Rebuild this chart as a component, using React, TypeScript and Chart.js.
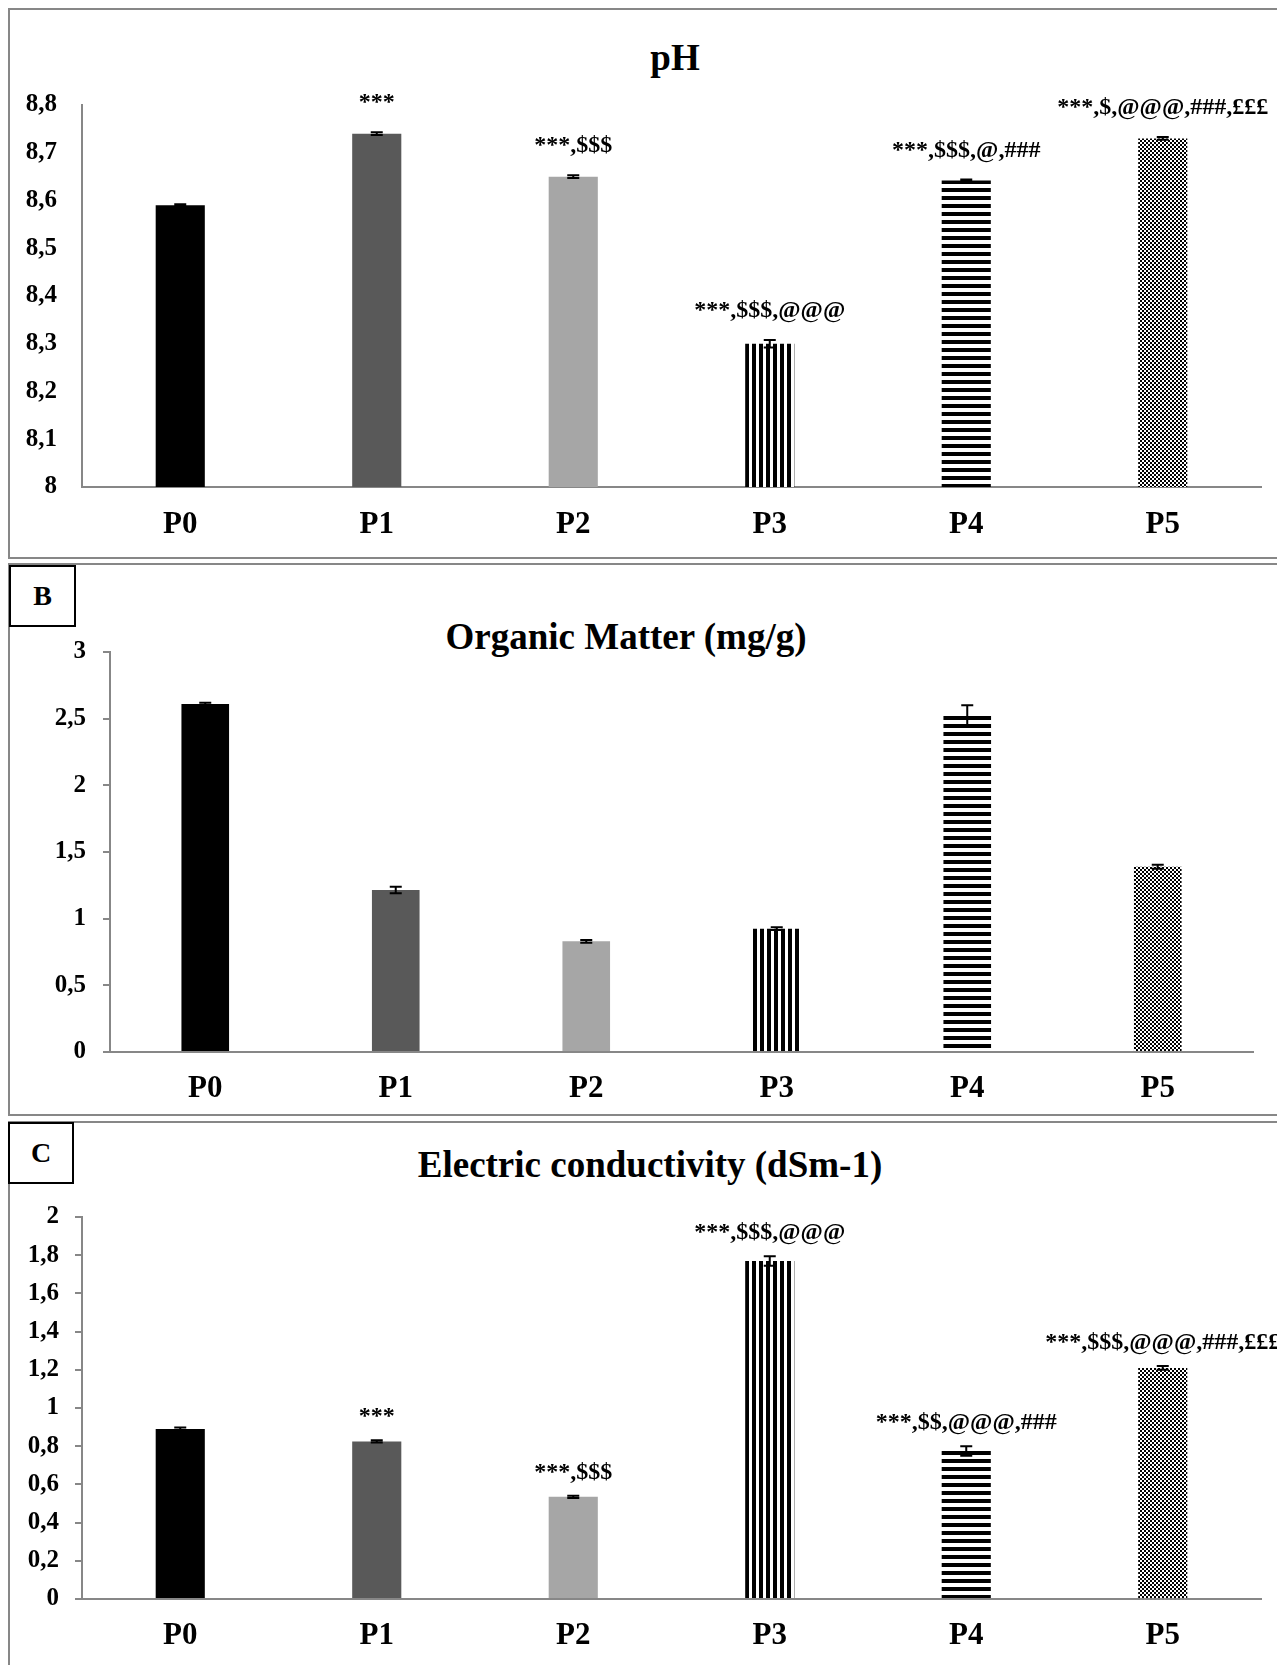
import React, { useEffect, useRef } from 'react';
import { Chart, registerables } from 'chart.js';

Chart.register(...registerables);

// ---------- data ----------
const categories = ['P0', 'P1', 'P2', 'P3', 'P4', 'P5'];

const phValues = [8.59, 8.74, 8.65, 8.3, 8.642, 8.73];
const phErrors = [0.002, 0.003, 0.003, 0.008, 0.002, 0.003];
const phTicks = ['8', '8,1', '8,2', '8,3', '8,4', '8,5', '8,6', '8,7', '8,8'];
const phMarks = ['', '***', '***,$$$', '***,$$$,@@@', '***,$$$,@,###', '***,$,@@@,###,£££'];

const omValues = [2.61, 1.215, 0.83, 0.925, 2.52, 1.39];
const omErrors = [0.01, 0.025, 0.01, 0.01, 0.08, 0.015];
const omTicks = ['0', '0,5', '1', '1,5', '2', '2,5', '3'];
const omMarks = ['', '', '', '', '', ''];

const ecValues = [0.89, 0.825, 0.535, 1.77, 0.775, 1.21];
const ecErrors = [0.008, 0.006, 0.006, 0.025, 0.025, 0.01];
const ecTicks = ['0', '0,2', '0,4', '0,6', '0,8', '1', '1,2', '1,4', '1,6', '1,8', '2'];
const ecMarks = ['', '***', '***,$$$', '***,$$$,@@@', '***,$$,@@@,###', '***,$$$,@@@,###,£££'];

// ---------- styling ----------
const SERIF = '"Liberation Serif", "Times New Roman", Times, serif';
const AXIS_GREY = '#878787';
const PAGE_W = 1277;

function makePattern(w: number, h: number, draw: (c: CanvasRenderingContext2D) => void) {
  const cv = document.createElement('canvas');
  cv.width = w;
  cv.height = h;
  const c = cv.getContext('2d')!;
  c.fillStyle = '#ffffff';
  c.fillRect(0, 0, w, h);
  c.fillStyle = '#000000';
  draw(c);
  const ctx = document.createElement('canvas').getContext('2d')!;
  return ctx.createPattern(cv, 'repeat')!;
}

function makeFills() {
  const vStripe = makePattern(7, 7, (c) => c.fillRect(0, 0, 4, 7));
  const hStripe = makePattern(8, 8, (c) => c.fillRect(0, 0, 8, 4));
  const checker = makePattern(4, 4, (c) => {
    c.fillRect(0, 0, 2, 2);
    c.fillRect(2, 2, 2, 2);
  });
  return ['#000000', '#595959', '#a6a6a6', vStripe, hStripe, checker] as any[];
}

type PanelProps = {
  top: number;
  height: number;
  values: number[];
  errors: number[];
  ticks: string[];
  marks: string[];
  min: number;
  max: number;
  step: number;
  plotLeft: number;
  plotRight: number;
  plotTop: number;
  plotBottom: number;
  tickLen: number;
  tickPad: number;
  xPad: number;
  markOffset: number;
};

function ChartPanel(p: PanelProps) {
  const ref = useRef<HTMLCanvasElement | null>(null);

  useEffect(() => {
    if (!ref.current) return;
    const fills = makeFills();

    // anchor each pattern to its own bar so the texture starts at the bar edge
    const alignPatterns = {
      id: 'alignPatterns',
      beforeDatasetsDraw(chart: any) {
        const meta = chart.getDatasetMeta(0);
        meta.data.forEach((el: any, i: number) => {
          const f = fills[i];
          if (f && typeof f === 'object' && typeof f.setTransform === 'function') {
            const left = Math.round(el.x - el.width / 2);
            const top = Math.round(el.y);
            f.setTransform(new DOMMatrix([1, 0, 0, 1, left, top]));
          }
        });
      },
    };

    const errorBars = {
      id: 'errorBars',
      afterDatasetsDraw(chart: any) {
        const { ctx } = chart;
        const meta = chart.getDatasetMeta(0);
        const ys = chart.scales.y;
        ctx.save();
        ctx.strokeStyle = '#000';
        ctx.lineWidth = 2;
        meta.data.forEach((el: any, i: number) => {
          const v = p.values[i];
          const e = p.errors[i];
          const yt = ys.getPixelForValue(v + e);
          const yb = ys.getPixelForValue(v - e);
          ctx.beginPath();
          ctx.moveTo(el.x, yt);
          ctx.lineTo(el.x, yb);
          ctx.moveTo(el.x - 6, yt);
          ctx.lineTo(el.x + 6, yt);
          ctx.moveTo(el.x - 6, yb);
          ctx.lineTo(el.x + 6, yb);
          ctx.stroke();
        });
        ctx.restore();
      },
    };

    const sigMarks = {
      id: 'sigMarks',
      afterDraw(chart: any) {
        const { ctx } = chart;
        const meta = chart.getDatasetMeta(0);
        const ys = chart.scales.y;
        ctx.save();
        ctx.fillStyle = '#000';
        ctx.font = `bold 24px ${SERIF}`;
        ctx.textAlign = 'center';
        ctx.textBaseline = 'middle';
        meta.data.forEach((el: any, i: number) => {
          const t = p.marks[i];
          if (!t) return;
          const y = ys.getPixelForValue(p.values[i] + p.errors[i]) - p.markOffset;
          ctx.fillText(t, el.x, y);
        });
        ctx.restore();
      },
    };

    const chart = new Chart(ref.current, {
      type: 'bar',
      data: {
        labels: categories,
        datasets: [
          {
            data: p.values,
            backgroundColor: fills,
            borderWidth: 0,
            barPercentage: 0.25,
            categoryPercentage: 1,
          },
        ],
      },
      options: {
        animation: false,
        responsive: false,
        maintainAspectRatio: false,
        layout: {
          padding: { top: p.plotTop, right: PAGE_W - p.plotRight, left: 0, bottom: 0 },
        },
        plugins: {
          legend: { display: false },
          tooltip: { enabled: false },
          title: { display: false },
        },
        scales: {
          x: {
            grid: { display: false, drawTicks: false },
            border: { display: true, color: AXIS_GREY, width: 2 },
            ticks: {
              color: '#000',
              font: { family: SERIF, size: 31, weight: 'bold' },
              padding: p.xPad,
              maxRotation: 0,
              autoSkip: false,
            },
            afterFit: (s: any) => {
              s.height = p.height - p.plotBottom;
            },
          },
          y: {
            min: p.min,
            max: p.max,
            grid: {
              display: p.tickLen > 0,
              drawOnChartArea: false,
              drawTicks: p.tickLen > 0,
              tickLength: p.tickLen,
              color: AXIS_GREY,
              lineWidth: 2,
            },
            border: { display: true, color: AXIS_GREY, width: 2 },
            ticks: {
              stepSize: p.step,
              color: '#000',
              font: { family: SERIF, size: 25, weight: 'bold' },
              padding: p.tickPad,
              callback: (_v: any, i: number) => p.ticks[i] ?? '',
            },
            afterFit: (s: any) => {
              s.width = p.plotLeft;
            },
          },
        },
      } as any,
      plugins: [alignPatterns, errorBars, sigMarks],
    });

    return () => chart.destroy();
  }, []);

  return (
    <canvas
      ref={ref}
      width={PAGE_W}
      height={p.height}
      style={{ position: 'absolute', left: 0, top: p.top, width: PAGE_W, height: p.height, display: 'block' }}
    />
  );
}

function Frame({ top, height }: { top: number; height: number }) {
  return (
    <div
      style={{
        position: 'absolute',
        left: 8,
        top,
        width: 1320,
        height,
        border: `2px solid ${AXIS_GREY}`,
        boxSizing: 'border-box',
      }}
    />
  );
}

function Title({ text, cx, cy }: { text: string; cx: number; cy: number }) {
  return (
    <div
      style={{
        position: 'absolute',
        left: cx - 400,
        top: cy - 22,
        width: 800,
        height: 44,
        lineHeight: '44px',
        textAlign: 'center',
        fontFamily: SERIF,
        fontWeight: 'bold',
        fontSize: 37,
        color: '#000',
        whiteSpace: 'nowrap',
      }}
    >
      {text}
    </div>
  );
}

function LabelBox({ text, left, top, w, h }: { text: string; left: number; top: number; w: number; h: number }) {
  return (
    <div
      style={{
        position: 'absolute',
        left,
        top,
        width: w,
        height: h,
        border: '2px solid #000',
        boxSizing: 'border-box',
        background: '#fff',
        display: 'flex',
        alignItems: 'center',
        justifyContent: 'center',
        fontFamily: SERIF,
        fontWeight: 'bold',
        fontSize: 28,
        color: '#000',
      }}
    >
      {text}
    </div>
  );
}

export default function App() {
  return (
    <div
      style={{
        position: 'absolute',
        left: 0,
        top: 0,
        width: PAGE_W,
        height: 1665,
        overflow: 'hidden',
        background: '#fff',
      }}
    >
      <Frame top={8} height={551} />
      <Frame top={563} height={553} />
      <Frame top={1121} height={600} />

      <Title text="pH" cx={675} cy={58} />
      <Title text="Organic Matter (mg/g)" cx={626} cy={637} />
      <Title text="Electric conductivity (dSm-1)" cx={650} cy={1165} />

      <ChartPanel
        top={0}
        height={560}
        values={phValues}
        errors={phErrors}
        ticks={phTicks}
        marks={phMarks}
        min={8}
        max={8.8}
        step={0.1}
        plotLeft={82}
        plotRight={1261}
        plotTop={105}
        plotBottom={487}
        tickLen={0}
        tickPad={25}
        xPad={19}
        markOffset={29}
      />
      <ChartPanel
        top={560}
        height={558}
        values={omValues}
        errors={omErrors}
        ticks={omTicks}
        marks={omMarks}
        min={0}
        max={3}
        step={0.5}
        plotLeft={110}
        plotRight={1253}
        plotTop={92}
        plotBottom={492}
        tickLen={7}
        tickPad={17}
        xPad={18}
        markOffset={26}
      />
      <ChartPanel
        top={1118}
        height={547}
        values={ecValues}
        errors={ecErrors}
        ticks={ecTicks}
        marks={ecMarks}
        min={0}
        max={2}
        step={0.2}
        plotLeft={82}
        plotRight={1261}
        plotTop={99}
        plotBottom={481}
        tickLen={7}
        tickPad={16}
        xPad={18}
        markOffset={23}
      />

      <LabelBox text="B" left={9} top={565} w={67} h={62} />
      <LabelBox text="C" left={8} top={1122} w={66} h={62} />
    </div>
  );
}
